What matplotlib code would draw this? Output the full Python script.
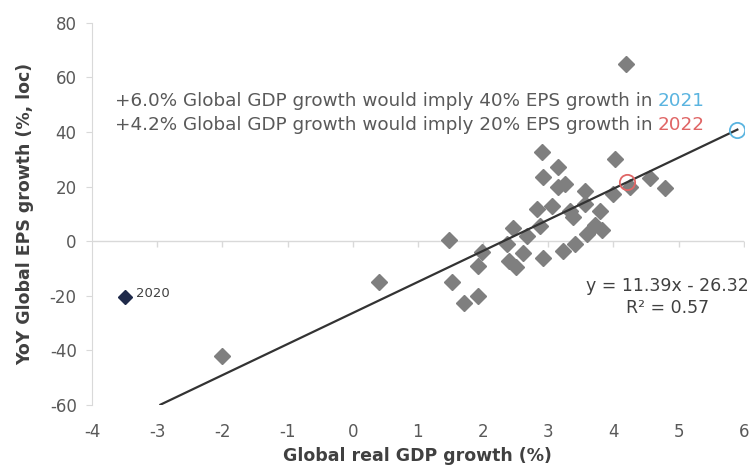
import numpy as np
import matplotlib
matplotlib.use('Agg')
import matplotlib.pyplot as plt

plt.rcParams['font.family'] = ['DejaVu Sans']
plt.rcParams['axes.unicode_minus'] = False

# annual observations: global real GDP growth (%) vs YoY global EPS growth (%)
gdp = [-2.0, 0.4, 1.47, 1.52, 1.70, 1.92, 1.92, 1.98, 2.36, 2.39, 2.51, 2.61,
       2.46, 2.67, 2.82, 2.87, 2.90, 2.92, 2.92, 3.05, 3.15, 3.15, 3.25, 3.23,
       3.33, 3.41, 3.38, 3.56, 3.56, 3.59, 3.72, 3.80, 3.82, 4.00, 4.02, 4.19,
       4.25, 4.56, 4.79]
eps = [-42, -15, 0.5, -15, -22.5, -20, -9, -4, -1, -7.2, -9.5, -4.5,
       5, 2, 11.7, 5.5, 32.5, 23.5, -6, 13, 27, 19.7, 21, -3.5,
       11, -1.2, 9, 18.4, 13.6, 2.6, 6, 11, 4, 17.2, 30, 64.8,
       20, 23, 19.6]

gdp_2020, eps_2020 = -3.5, -20.5

slope, intercept = 11.39, -26.32
r2 = 0.57
fit_x = [-2.95, 5.9]

gdp_2021, gdp_2022 = 6.0, 4.2

fig = plt.figure(figsize=(7.51, 4.67), dpi=100)
ax = fig.add_axes([0.1225, 0.133, 0.868, 0.818])

grey = '#7f7f7f'
txt = '#595959'
blue = '#5ab4e0'
red = '#e06666'

ax.axhline(0, color='#d9d9d9', lw=1, zorder=0)
ax.plot(range(-3, 7), [0] * 10, ls='none', marker=3, ms=4, color='#d9d9d9', zorder=0)

ax.plot(gdp, eps, ls='none', marker='D', ms=7.8, color=grey, mec=grey, zorder=2)
ax.plot([gdp_2020], [eps_2020], ls='none', marker='D', ms=7, color='#1f2a4a', zorder=3)
ax.text(gdp_2020 + 0.17, eps_2020 + 1.5, '2020', fontsize=9.5, color='#404040', va='center')

fx = np.array(fit_x)
ax.plot(fx, slope * fx + intercept, color='#333333', lw=1.6, zorder=4)

ax.plot([gdp_2021 - 0.1], [slope * (gdp_2021 - 0.1) + intercept], ls='none', marker='o',
        ms=11, mfc='none', mec=blue, mew=1.3, zorder=5)
ax.plot([gdp_2022], [slope * gdp_2022 + intercept], ls='none', marker='o',
        ms=11, mfc='none', mec=red, mew=1.3, zorder=5)

t1 = ax.text(-3.65, 51.5, '+6.0% Global GDP growth would imply 40% EPS growth in',
             fontsize=13.2, color=txt, va='center')
ax.annotate('2021', xy=(1, 0), xycoords=t1, xytext=(4, 0), textcoords='offset points',
            fontsize=13.2, color=blue, va='bottom')
t2 = ax.text(-3.65, 42.5, '+4.2% Global GDP growth would imply 20% EPS growth in',
             fontsize=13.2, color=txt, va='center')
ax.annotate('2022', xy=(1, 0), xycoords=t2, xytext=(4, 0), textcoords='offset points',
            fontsize=13.2, color=red, va='bottom')

ax.text(4.83, -16.5, 'y = %.2fx - %.2f' % (slope, -intercept), fontsize=12.5,
        color='#404040', ha='center', va='center')
ax.text(4.83, -24.5, 'R² = %.2f' % r2, fontsize=12.5, color='#404040', ha='center', va='center')

ax.set_xlim(-4, 6)
ax.set_ylim(-60, 80)
ax.set_xticks(range(-4, 7))
ax.set_yticks(range(-60, 81, 20))
ax.tick_params(axis='x', length=0, pad=13, labelsize=12, labelcolor=txt)
ax.tick_params(axis='y', length=4, color='#d9d9d9', labelsize=12, labelcolor=txt, pad=7)
for s in ['top', 'right', 'bottom']:
    ax.spines[s].set_visible(False)
ax.spines['left'].set_color('#d9d9d9')

ax.set_xlabel('Global real GDP growth (%)', fontsize=12.5, fontweight='bold', color='#404040', labelpad=4)
ax.set_ylabel('YoY Global EPS growth (%, loc)', fontsize=12.5, fontweight='bold', color='#404040', labelpad=11)

fig.savefig('out.png', dpi=100)
